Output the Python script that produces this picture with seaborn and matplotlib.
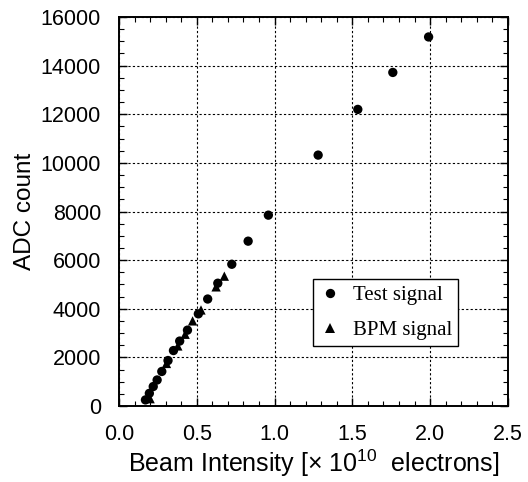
import numpy as np
import pandas as pd
import matplotlib
matplotlib.use('Agg')
import matplotlib.pyplot as plt
import seaborn as sns
from matplotlib.ticker import MultipleLocator

# Test signal points (beam intensity in 1e10 electrons, ADC count)
test_x = [0.17, 0.195, 0.22, 0.245, 0.275, 0.315, 0.35, 0.39, 0.44, 0.51,
          0.57, 0.635, 0.725, 0.83, 0.96, 1.28, 1.535, 1.76, 1.99]
test_y = [250, 520, 800, 1070, 1420, 1870, 2280, 2670, 3120, 3790,
          4400, 5050, 5830, 6780, 7850, 10320, 12200, 13720, 15180]

# BPM signal points
bpm_x = [0.20, 0.305, 0.378, 0.425, 0.473, 0.527, 0.624, 0.677]
bpm_y = [300, 1750, 2470, 2950, 3500, 3950, 4900, 5340]

xticks = [0.0, 0.5, 1.0, 1.5, 2.0, 2.5]
yticks = [0, 2000, 4000, 6000, 8000, 10000, 12000, 14000, 16000]

df = pd.DataFrame({
    'x': test_x + bpm_x,
    'y': test_y + bpm_y,
    'signal': ['Test signal'] * len(test_x) + ['BPM signal'] * len(bpm_x),
})

sns.set_style('ticks')
plt.rcParams['font.family'] = ['Liberation Sans', 'DejaVu Sans']
plt.rcParams['mathtext.default'] = 'regular'
plt.rcParams['text.color'] = 'black'
plt.rcParams['axes.labelcolor'] = 'black'
plt.rcParams['xtick.color'] = 'black'
plt.rcParams['ytick.color'] = 'black'

fig = plt.figure(figsize=(5.28, 4.82), dpi=100)
ax = fig.add_axes([0.2254, 0.1577, 0.962 - 0.2254, 0.9647 - 0.1577])

sns.scatterplot(data=df, x='x', y='y', hue='signal', style='signal',
                palette={'Test signal': 'black', 'BPM signal': 'black'},
                markers={'Test signal': 'o', 'BPM signal': '^'},
                s=45, edgecolor='black', linewidth=0, ax=ax, zorder=3)

ax.set_xlim(0, 2.5)
ax.set_ylim(0, 16000)
ax.set_xticks(xticks)
ax.set_yticks(yticks)
ax.set_xticklabels([f'{v:.1f}' for v in xticks])
ax.xaxis.set_minor_locator(MultipleLocator(0.1))
ax.yaxis.set_minor_locator(MultipleLocator(500))
ax.tick_params(which='both', direction='in', top=True, right=True, color='black')
ax.tick_params(which='major', length=6, width=1, labelsize=15.5, labelcolor='black')
ax.tick_params(axis='x', which='major', pad=13)
ax.tick_params(axis='y', which='major', pad=13)
ax.tick_params(which='minor', length=3.5, width=0.8)
ax.grid(True, which='major', linestyle=(0, (2, 2)), color='black', linewidth=0.8)
for sp in ax.spines.values():
    sp.set_linewidth(1.4)
    sp.set_color('black')

ax.set_xlabel(r'Beam Intensity [$\times$ 10$^{10}$  electrons]', fontsize=18, labelpad=2)
ax.set_ylabel('ADC count', fontsize=17.5, labelpad=3)

leg = ax.legend(loc='upper left', bbox_to_anchor=(0.499, 0.326), frameon=True,
                fancybox=False, edgecolor='black', framealpha=1,
                prop={'family': 'Liberation Serif', 'size': 15},
                handlelength=1.0, handletextpad=0.6, borderpad=0.3,
                labelspacing=0.75, borderaxespad=0)
leg.get_frame().set_linewidth(1.0)

fig.savefig('out.png', dpi=100)
